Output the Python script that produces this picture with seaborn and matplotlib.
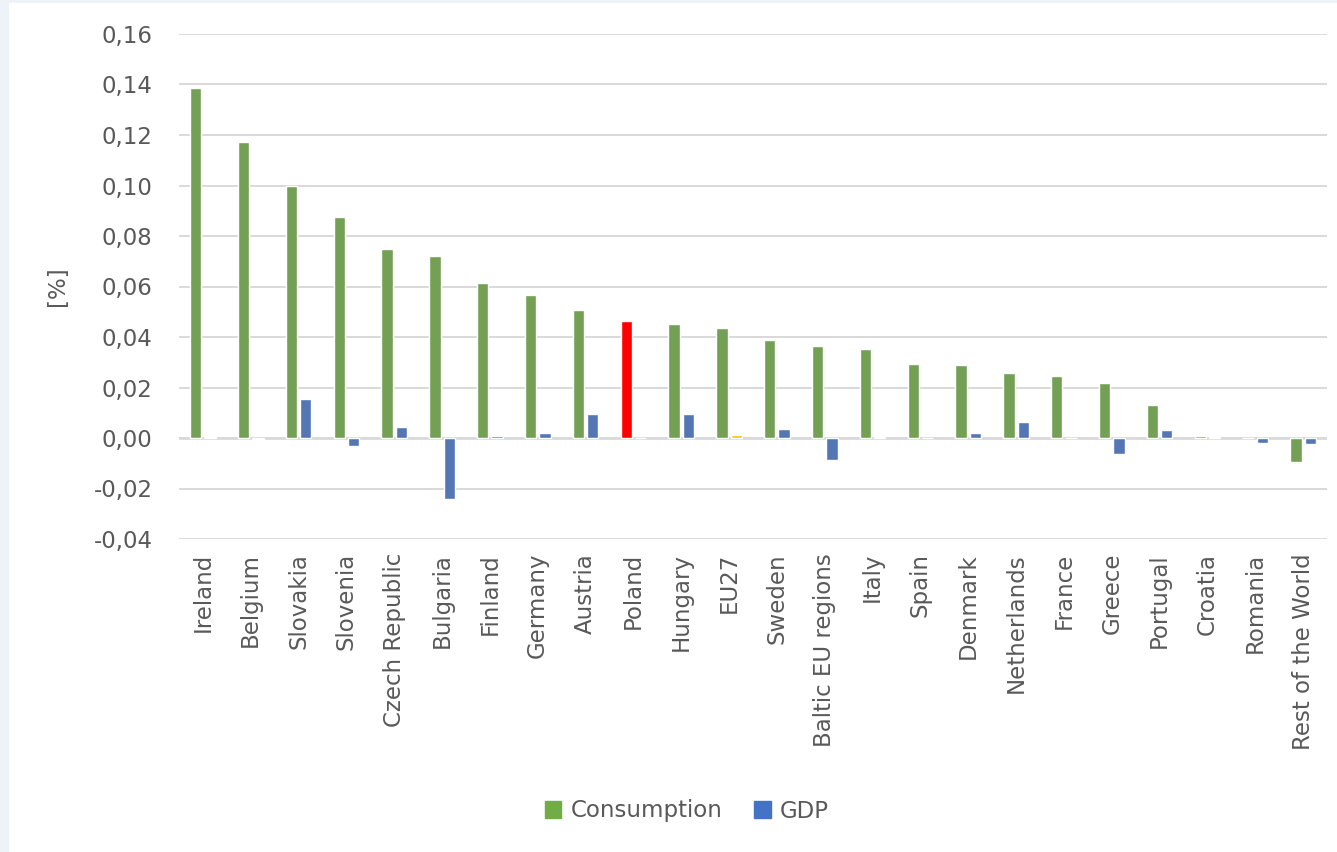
import matplotlib
matplotlib.use("Agg")
import matplotlib.pyplot as plt
import matplotlib.patches as mpatches
import seaborn as sns
import pandas as pd

countries = ["Ireland", "Belgium", "Slovakia", "Slovenia", "Czech Republic", "Bulgaria",
             "Finland", "Germany", "Austria", "Poland", "Hungary", "EU27", "Sweden",
             "Baltic EU regions", "Italy", "Spain", "Denmark", "Netherlands", "France",
             "Greece", "Portugal", "Croatia", "Romania", "Rest of the World"]
consumption = [0.1386, 0.1172, 0.0998, 0.0877, 0.0750, 0.0721, 0.0612, 0.0565, 0.0505,
               0.0463, 0.0452, 0.0436, 0.0390, 0.0366, 0.0354, 0.0295, 0.0290, 0.0259,
               0.0247, 0.0216, 0.0132, 0.0008, 0.0000, -0.0097]
gdp = [0.0003, -0.0004, 0.0154, -0.0030, 0.0045, -0.0241, 0.0008, 0.0018, 0.0095,
       0.0000, 0.0096, 0.0012, 0.0037, -0.0086, 0.0004, 0.0000, 0.0021, 0.0063,
       0.0000, -0.0064, 0.0032, 0.0003, -0.0019, -0.0022]
series = ["Consumption", "GDP"]
yticks = [-0.04, -0.02, 0.0, 0.02, 0.04, 0.06, 0.08, 0.10, 0.12, 0.14, 0.16]

GREEN, BLUE, RED, ORANGE = "#70AD47", "#4472C4", "#FF0000", "#FFC000"
TEXT = "#595959"
FS = 16.5

df = pd.DataFrame({
    "country": countries * 2,
    "series": [series[0]] * len(countries) + [series[1]] * len(countries),
    "value": consumption + gdp,
})

sns.set_theme(style="white")
plt.rcParams["font.family"] = ["DejaVu Sans"]

fig = plt.figure(figsize=(13.37, 8.52), dpi=100, facecolor="#EEF3FA")
fig.patches.append(mpatches.Rectangle((9 / 1337, 0), 1, (852 - 3) / 852,
                                      transform=fig.transFigure, facecolor="white",
                                      edgecolor="none", zorder=-10))
ax = fig.add_axes([179 / 1337, (852 - 539) / 852, (1327 - 179) / 1337, (539 - 34) / 852])
ax.set_facecolor("none")

sns.barplot(data=df, x="country", y="value", hue="series", order=countries,
            hue_order=series, palette=[GREEN, BLUE], width=0.6, gap=0.22,
            errorbar=None, ax=ax, legend=False, zorder=3)

# highlight Poland's consumption bar and the EU27 GDP bar
cons_bars = ax.containers[0]
gdp_bars = ax.containers[1]
cons_bars[countries.index("Poland")].set_facecolor(RED)
gdp_bars[countries.index("EU27")].set_facecolor(ORANGE)

ax.set_ylim(-0.04, 0.16)
ax.set_xlim(-0.5, len(countries) - 0.5)
ax.set_yticks(yticks)
ax.set_yticklabels([f"{v:.2f}".replace(".", ",") for v in yticks], fontsize=FS, color=TEXT)
ax.tick_params(axis="y", length=0, pad=19)
ax.tick_params(axis="x", length=0, pad=10)
ax.set_xticks(range(len(countries)))
ax.set_xticklabels(countries, rotation=90, fontsize=FS, color=TEXT)
ax.grid(axis="y", color="#D9D9D9", linewidth=1.4, zorder=0)
ax.set_axisbelow(True)
ax.axhline(0, color="#D9D9D9", linewidth=2, zorder=2)
for s in ax.spines.values():
    s.set_visible(False)
ax.set_xlabel("")
ax.set_ylabel("[%]", fontsize=FS, color=TEXT, labelpad=18)

handles = [mpatches.Patch(color=GREEN, label="Consumption"),
           mpatches.Patch(color=BLUE, label="GDP")]
fig.legend(handles=handles, loc="center", bbox_to_anchor=(687 / 1337, 1 - 811 / 852),
           ncol=2, frameon=False, fontsize=FS, handlelength=0.7, handleheight=0.7,
           handletextpad=0.4, columnspacing=1.4, labelcolor=TEXT)

fig.savefig("out.png", dpi=100, facecolor=fig.get_facecolor())
